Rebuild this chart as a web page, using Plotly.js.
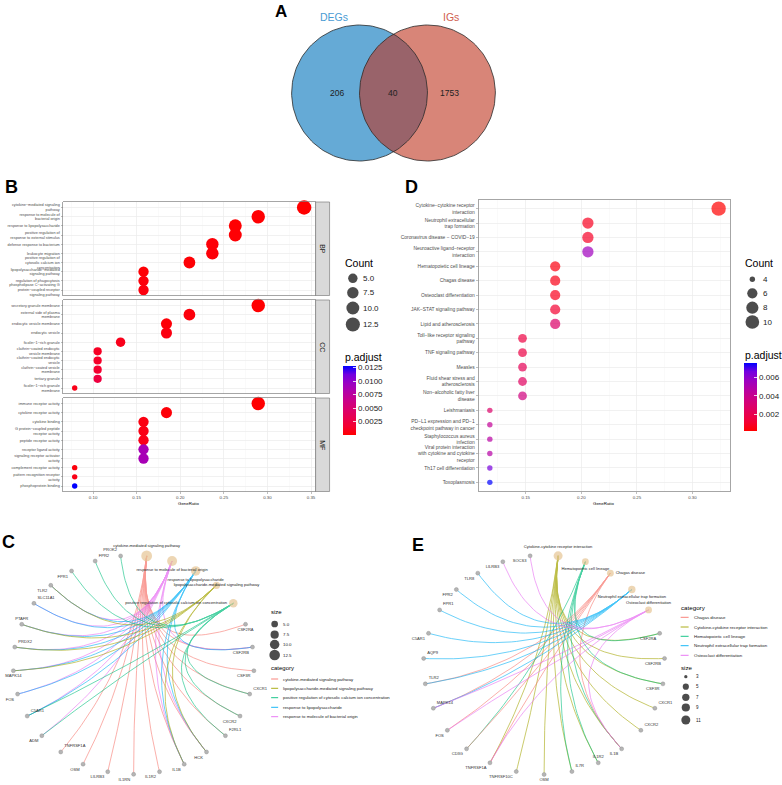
<!DOCTYPE html>
<html><head><meta charset="utf-8">
<script src="https://cdn.plot.ly/plotly-3.0.1.min.js"></script>
<style>html,body{margin:0;padding:0;background:#fff}#chart{width:782px;height:785px}</style>
</head><body><div id="chart"></div>
<script>
// ================= DATA =================
// Panel A (Venn)
const vennNames = ['DEGs', 'IGs'];
const vennRegionCounts = [206, 40, 1753]; // DEGs only, both, IGs only

// Panel B (GO dotplot)
const goGeneTotal = 38;
const bpTerms = ['cytokine−mediated signaling\npathway','response to molecule of\nbacterial origin','response to lipopolysaccharide','positive regulation of\nresponse to external stimulus','defense response to bacterium','leukocyte migration','positive regulation of\ncytosolic calcium ion\nconcentration','lipopolysaccharide−mediated\nsignaling pathway','regulation of phagocytosis','phospholipase C−activating G\nprotein−coupled receptor\nsignaling pathway'];
const bpCount = [13, 11, 10, 10, 9, 9, 8, 6, 6, 6];
const bpPadj  = [0.00003, 0.0001, 0.0001, 0.0002, 0.0003, 0.0003, 0.0002, 0.0002, 0.0004, 0.0005];
const ccTerms = ['secretory granule membrane','external side of plasma\nmembrane','endocytic vesicle membrane','endocytic vesicle','ficolin−1−rich granule','clathrin−coated endocytic\nvesicle membrane','clathrin−coated endocytic\nvesicle','clathrin−coated vesicle\nmembrane','tertiary granule','ficolin−1−rich granule\nmembrane'];
const ccCount = [11, 8, 7, 7, 5, 4, 4, 4, 4, 3];
const ccPadj  = [0.00005, 0.0004, 0.0003, 0.0006, 0.0009, 0.0012, 0.0014, 0.0016, 0.0024, 0.0008];
const mfTerms = ['immune receptor activity','cytokine receptor activity','cytokine binding','G protein−coupled peptide\nreceptor activity','peptide receptor activity','receptor ligand activity','signaling receptor activator\nactivity','complement receptor activity','pattern recognition receptor\nactivity','phosphoprotein binding'];
const mfCount = [11, 7, 6, 6, 6, 6, 6, 3, 3, 3];
const mfPadj  = [0.00005, 0.0003, 0.0006, 0.0007, 0.0008, 0.0088, 0.0088, 0.0004, 0.0007, 0.0128];
const goFacets = ['BP', 'CC', 'MF'];
const goCountLegend = [5.0, 7.5, 10.0, 12.5];
const goPadjTicks = [0.0025, 0.0050, 0.0075, 0.0100, 0.0125];

// Panel D (KEGG dotplot)
const keggGeneTotal = 34;
const keggTerms = ['Cytokine−cytokine receptor\ninteraction','Neutrophil extracellular\ntrap formation','Coronavirus disease − COVID−19','Neuroactive ligand−receptor\ninteraction','Hematopoietic cell lineage','Chagas disease','Osteoclast differentiation','JAK−STAT signaling pathway','Lipid and atherosclerosis','Toll−like receptor signaling\npathway','TNF signaling pathway','Measles','Fluid shear stress and\natherosclerosis','Non−alcoholic fatty liver\ndisease','Leishmaniasis','PD−L1 expression and PD−1\ncheckpoint pathway in cancer','Staphylococcus aureus\ninfection','Viral protein interaction\nwith cytokine and cytokine\nreceptor','Th17 cell differentiation','Toxoplasmosis'];
const keggCount = [11, 7, 7, 7, 6, 6, 6, 6, 6, 5, 5, 5, 5, 5, 4, 4, 4, 4, 4, 4];
const keggPadj  = [0.0002, 0.0008, 0.0009, 0.0055, 0.0005, 0.0006, 0.0007, 0.0011, 0.0028, 0.0016, 0.0017, 0.0022, 0.0025, 0.0035, 0.0028, 0.0042, 0.0046, 0.0047, 0.0065, 0.0075];
const keggCountLegend = [4, 6, 8, 10];
const keggPadjTicks = [0.002, 0.004, 0.006];

// Panel C (GO gene-concept network)
const netC_cats = ['cytokine-mediated signaling pathway','response to molecule of bacterial origin','response to lipopolysaccharide','lipopolysaccharide-mediated signaling pathway','positive regulation of cytosolic calcium ion concentration'];
const netC_genes = ['CSF2RA','CSF2RB','CSF3R','CXCR1','CXCR2','F2RL1','HCK','IL1B','IL1R2','IL1RN','LILRB3','OSM','TNFRSF1A','ADM','C5AR1','FOS','MAPK14','PRDX2','PTAFR','SLC11A1','TLR2','FPR1','FPR2','PROK2'];
const netC_members = [
  ['CSF2RA','CSF2RB','CSF3R','CXCR1','CXCR2','F2RL1','HCK','IL1B','IL1R2','IL1RN','LILRB3','OSM','TNFRSF1A'],
  ['CSF2RB','HCK','IL1B','ADM','C5AR1','FOS','MAPK14','PRDX2','PTAFR','SLC11A1','TLR2'],
  ['CSF2RB','HCK','IL1B','C5AR1','FOS','MAPK14','PRDX2','PTAFR','SLC11A1','TLR2'],
  ['HCK','IL1B','MAPK14','PRDX2','PTAFR','TLR2'],
  ['CXCR1','CXCR2','F2RL1','ADM','C5AR1','FPR1','FPR2','PROK2']
];
const netC_sizeLegend = [5.0, 7.5, 10.0, 12.5];

// Panel E (KEGG gene-concept network)
const netE_cats = ['Cytokine-cytokine receptor interaction','Hematopoietic cell lineage','Chagas disease','Neutrophil extracellular trap formation','Osteoclast differentiation'];
const netE_genes = ['CSF2RA','CSF2RB','CSF3R','CXCR1','CXCR2','IL1B','IL1R2','IL7R','OSM','TNFRSF10C','TNFRSF1A','CD3G','FOS','MAPK14','TLR2','AQP9','C5AR1','FPR1','FPR2','TLR8','LILRB3','SOCS3'];
const netE_members = [
  ['CSF2RA','CSF2RB','CSF3R','CXCR1','CXCR2','IL1B','IL1R2','IL7R','OSM','TNFRSF10C','TNFRSF1A'],
  ['CSF2RA','CSF3R','IL1B','IL1R2','IL7R','CD3G'],
  ['IL1B','TNFRSF1A','CD3G','FOS','MAPK14','TLR2'],
  ['MAPK14','TLR2','AQP9','C5AR1','FPR1','FPR2','TLR8'],
  ['IL1B','TNFRSF1A','FOS','MAPK14','LILRB3','SOCS3']
];
const netE_sizeLegend = [3, 5, 7, 9, 11];

// ================= STYLE / LAYOUT =================
const FONT = 'Liberation Sans, Arial, Helvetica, sans-serif';
const W = 782, H = 785;
const px2x = x => x / W;
const px2y = y => 1 - y / H;
const br = s => s.replace(/\n/g, '<br>');
const hue5 = ['#F8766D','#A3A500','#00BF7D','#00B0F6','#E76BF3'];
const padjScale = [[0,'#FF0000'],[0.125,'#F40031'],[0.25,'#E8004F'],[0.375,'#DA006D'],[0.5,'#CA0089'],[0.625,'#B400A7'],[0.75,'#9A00C3'],[0.875,'#7300E0'],[1,'#0000FF']];
const GRID = '#EBEBEB', MINOR = '#F5F5F5', BORDER = '#808080', TICKTXT = '#4D4D4D';

const traces = [];
const shapes = [];
const annotations = [];
const ann = (text, x, y, o) => annotations.push(Object.assign({text, x: px2x(x), y: px2y(y), xref:'paper', yref:'paper', showarrow:false, xanchor:'left', yanchor:'middle', font:{family:FONT, size:8, color:'#1A1A1A'}}, o || {}));

// ---------- Panel A: Venn ----------
(function(){
  const c1 = [360, 93], c2 = [428, 93], r = 68;
  const arc = (c, a0, a1, n) => { const xs=[], ys=[]; for (let k=0;k<=n;k++){ const a=(a0+(a1-a0)*k/n)*Math.PI/180; xs.push(c[0]+r*Math.cos(a)); ys.push(c[1]+r*Math.sin(a)); } return [xs, ys]; };
  const full1 = arc(c1, 0, 360, 160), full2 = arc(c2, 0, 360, 160);
  traces.push({type:'scatter', mode:'lines', x: full1[0], y: full1[1], fill:'toself', fillcolor:'#65AAD6', line:{width:0}, xaxis:'x7', yaxis:'y7', hoverinfo:'skip'});
  traces.push({type:'scatter', mode:'lines', x: full2[0], y: full2[1], fill:'toself', fillcolor:'#D88578', line:{width:0}, xaxis:'x7', yaxis:'y7', hoverinfo:'skip'});
  const d = c2[0]-c1[0];
  const half = Math.acos((d/2)/r)*180/Math.PI;
  const a2 = arc(c2, -(180-half), -(180+half), 80);
  const a1 = arc(c1, half, -half, 80);
  traces.push({type:'scatter', mode:'lines', x: a2[0].concat(a1[0]), y: a2[1].concat(a1[1]), fill:'toself', fillcolor:'#99636A', line:{width:0}, xaxis:'x7', yaxis:'y7', hoverinfo:'skip'});
  traces.push({type:'scatter', mode:'lines', x: full1[0], y: full1[1], line:{width:0.8, color:'#2B2B2B'}, xaxis:'x7', yaxis:'y7', hoverinfo:'skip'});
  traces.push({type:'scatter', mode:'lines', x: full2[0], y: full2[1], line:{width:0.8, color:'#2B2B2B'}, xaxis:'x7', yaxis:'y7', hoverinfo:'skip'});
  const midx = (c1[0]+c2[0])/2;
  const cx = [c1[0]-0.33*r, midx, c2[0]+0.33*r];
  vennRegionCounts.forEach((v,i) => ann(String(v), cx[i], c1[1], {xanchor:'center', font:{family:FONT, size:8.5, color:'#222'}}));
  ann(vennNames[0], c1[0]-0.38*r, c1[1]-r-8, {xanchor:'center', font:{family:FONT, size:10.5, color:'#4A9BD4'}});
  ann(vennNames[1], c2[0]+0.34*r, c2[1]-r-8, {xanchor:'center', font:{family:FONT, size:10.5, color:'#D0604F'}});
})();

// ---------- dotplot helpers ----------
const kDot = 1.8;
function dotSizer(counts){ const mn=Math.min(...counts), mx=Math.max(...counts); return c => kDot*(3+5*Math.sqrt(Math.max(0,(c-mn))/(mx-mn))); }
function ratioRange(counts, total){ const r = counts.map(c=>c/total); const lo=Math.min(...r), hi=Math.max(...r), p=(hi-lo)*0.05; return [lo-p, hi+p]; }

const allGoCounts = bpCount.concat(ccCount, mfCount);
const allGoPadj = bpPadj.concat(ccPadj, mfPadj);
const dGo = dotSizer(allGoCounts);
const goRange = ratioRange(allGoCounts, goGeneTotal);
const dKegg = dotSizer(keggCount);
const keggRange = ratioRange(keggCount, keggGeneTotal);

function xAxisCfg(domPx, range, labels, minorDt, dt){
  return {domain:[px2x(domPx[0]), px2x(domPx[1])], range, showline:true, mirror:true, linecolor:BORDER, linewidth:0.7,
    showgrid:true, gridcolor:GRID, gridwidth:0.7, tick0:0, dtick:dt, minor:{dtick:minorDt, showgrid:true, gridcolor:MINOR, gridwidth:0.5},
    ticks: labels ? 'outside' : '', ticklen:2, tickwidth:0.5, tickcolor:BORDER, showticklabels:labels, tickformat:'.2f',
    tickfont:{family:FONT, size:4.4, color:TICKTXT}, zeroline:false, fixedrange:true};
}
function yAxisCfg(domPx, terms, fontSize){
  const n = terms.length;
  return {domain:[px2y(domPx[1]), px2y(domPx[0])], range:[n-1+0.6, -0.6], tickmode:'array', tickvals:terms.map((_,i)=>i), ticktext:terms.map(br),
    showline:true, mirror:true, linecolor:BORDER, linewidth:0.7, showgrid:true, gridcolor:GRID, gridwidth:0.7,
    ticks:'outside', ticklen:2, tickwidth:0.5, tickcolor:BORDER, tickfont:{family:FONT, size:fontSize, color:TICKTXT}, zeroline:false, fixedrange:true};
}

// ---------- Panel B ----------
const bPanelsPx = [[202, 295.5], [300, 393.5], [398, 491.5]];
const bData = [[bpTerms,bpCount,bpPadj],[ccTerms,ccCount,ccPadj],[mfTerms,mfCount,mfPadj]];
bData.forEach((d, i) => {
  const ax = i===0 ? '' : String(i+1);
  traces.push({type:'scatter', mode:'markers', x: d[1].map(c=>c/goGeneTotal), y: d[0].map((_,j)=>j), xaxis:'x'+ax, yaxis:'y'+ax,
    marker:{size: d[1].map(dGo), color: d[2], coloraxis:'coloraxis', line:{width:0}, opacity:1}, hoverinfo:'skip', cliponaxis:false});
  const yp = bPanelsPx[i];
  shapes.push({type:'rect', xref:'paper', yref:'paper', x0:px2x(316), x1:px2x(330), y0:px2y(yp[1]), y1:px2y(yp[0]), fillcolor:'#D9D9D9', line:{color:BORDER, width:0.7}});
  ann(goFacets[i], 323, (yp[0]+yp[1])/2, {xanchor:'center', textangle:90, font:{family:FONT, size:7, color:'#1A1A1A'}});
});
ann('GeneRatio', (63.3+316)/2, 503.3, {xanchor:'center', font:{family:FONT, size:4.4, color:'#000'}});
ann('Count', 343.5, 262.7, {font:{family:FONT, size:10.5, color:'#000'}});
const bLegY = [278.3, 292.7, 308, 324.5];
traces.push({type:'scatter', mode:'markers', x: goCountLegend.map(()=>353.3), y: bLegY, xaxis:'x7', yaxis:'y7', marker:{size: goCountLegend.map(dGo), color:'#000', line:{width:0}}, hoverinfo:'skip', cliponaxis:false});
goCountLegend.forEach((v,i)=>ann(v.toFixed(1), 361.7, bLegY[i], {font:{family:FONT, size:8, color:'#1A1A1A'}}));
ann('p.adjust', 343.3, 356.7, {font:{family:FONT, size:10.5, color:'#000'}});

// ---------- Panel D ----------
traces.push({type:'scatter', mode:'markers', x: keggCount.map(c=>c/keggGeneTotal), y: keggTerms.map((_,j)=>j), xaxis:'x4', yaxis:'y4',
  marker:{size: keggCount.map(dKegg), color: keggPadj, coloraxis:'coloraxis2', line:{width:0}}, hoverinfo:'skip', cliponaxis:false});
ann('GeneRatio', (479+731)/2, 503.3, {xanchor:'center', font:{family:FONT, size:4.4, color:'#000'}});
ann('Count', 744, 263.3, {font:{family:FONT, size:10.5, color:'#000'}});
const dLegY = [279.3, 293.3, 307.7, 322];
traces.push({type:'scatter', mode:'markers', x: keggCountLegend.map(()=>753.3), y: dLegY, xaxis:'x7', yaxis:'y7', marker:{size: keggCountLegend.map(dKegg), color:'#000', line:{width:0}}, hoverinfo:'skip', cliponaxis:false});
keggCountLegend.forEach((v,i)=>ann(String(v), 761.7, dLegY[i], {font:{family:FONT, size:8, color:'#1A1A1A'}}));
ann('p.adjust', 744, 355, {font:{family:FONT, size:10.5, color:'#000'}});

// ---------- Networks ----------
const labelPosC = {CSF2RA:'bottom center', CSF2RB:'bottom left', CSF3R:'bottom left', CXCR1:'top right', CXCR2:'bottom left', F2RL1:'top right', HCK:'bottom left', IL1B:'bottom left', IL1R2:'bottom left', IL1RN:'bottom left', LILRB3:'bottom left', OSM:'bottom left', TNFRSF1A:'top right', ADM:'bottom left', C5AR1:'top right', FOS:'bottom left', MAPK14:'bottom center', PRDX2:'top right', PTAFR:'top center', SLC11A1:'top right', TLR2:'bottom left', FPR1:'bottom left', FPR2:'top right', PROK2:'top left'};
const catPosC = ['top center','bottom center','bottom center','middle center','middle left'];
const labelPosE = {CSF2RA:'bottom left', CSF2RB:'bottom left', CSF3R:'bottom left', CXCR1:'top right', CXCR2:'top right', IL1B:'bottom left', IL1R2:'top center', IL7R:'top right', OSM:'bottom center', TNFRSF10C:'bottom left', TNFRSF1A:'bottom left', CD3G:'bottom left', FOS:'bottom left', MAPK14:'top right', TLR2:'top right', AQP9:'top right', C5AR1:'bottom left', FPR1:'top right', FPR2:'bottom left', TLR8:'bottom left', LILRB3:'bottom left', SOCS3:'bottom left'};
const catPosE = ['top center','bottom center','middle right','bottom center','top center'];

const dNetC = c => 3*Math.sqrt(c);
const dNetE = c => 3.3 + 5.7*Math.sqrt(Math.max(0,c-3)/8);

function buildNetwork(cats, genes, members, xa, ya, catSize, genePos, catPos, fs){
  const N = cats.length + genes.length, step = 2*Math.PI/N;
  const P = i => { const a = Math.PI/2 - step*(i+0.5); return [Math.cos(a), Math.sin(a)]; };
  const sorted = cats.slice().sort((a,b)=>a.localeCompare(b));
  const colorOf = c => hue5[sorted.indexOf(c)];
  cats.forEach((c, ci) => {
    const xs=[], ys=[];
    members[ci].forEach(g => {
      const gi = cats.length + genes.indexOf(g);
      const p0 = P(ci), p2 = P(gi);
      for (let k=0;k<=40;k++){ const t=k/40; xs.push((1-t)*(1-t)*p0[0] + t*t*p2[0]); ys.push((1-t)*(1-t)*p0[1] + t*t*p2[1]); }
      xs.push(null); ys.push(null);
    });
    traces.push({type:'scatter', mode:'lines', x:xs, y:ys, xaxis:xa, yaxis:ya, line:{color:colorOf(c), width:0.8}, opacity:0.72, hoverinfo:'skip'});
  });
  const gp = genes.map((g,i)=>P(cats.length+i));
  traces.push({type:'scatter', mode:'markers+text', x:gp.map(p=>p[0]), y:gp.map(p=>p[1]), text:genes, textposition:genes.map(g=>genePos[g]||'bottom left'),
    textfont:{family:FONT, size:fs, color:'#333333'}, marker:{size:4, color:'#B5B5B5', line:{color:'#8C8C8C', width:0.4}}, xaxis:xa, yaxis:ya, hoverinfo:'skip', cliponaxis:false});
  const cp = cats.map((c,i)=>P(i));
  traces.push({type:'scatter', mode:'markers+text', x:cp.map(p=>p[0]), y:cp.map(p=>p[1]), text:cats, textposition:catPos,
    textfont:{family:FONT, size:fs, color:'#1A1A1A'}, marker:{size:members.map(m=>catSize(m.length)), color:'#E5C494', line:{width:0}}, xaxis:xa, yaxis:ya, hoverinfo:'skip', cliponaxis:false});
  return colorOf;
}
const colC = buildNetwork(netC_cats, netC_genes, netC_members, 'x5', 'y5', dNetC, labelPosC, catPosC, 4.1);
const colE = buildNetwork(netE_cats, netE_genes, netE_members, 'x6', 'y6', dNetE, labelPosE, catPosE, 4.1);

// Legend C
ann('size', 269.7, 612.3, {font:{family:FONT, size:6, color:'#000'}});
const cSizeY = [624, 634.7, 644.5, 655];
traces.push({type:'scatter', mode:'markers', x:netC_sizeLegend.map(()=>275), y:cSizeY, xaxis:'x7', yaxis:'y7', marker:{size:netC_sizeLegend.map(dNetC), color:'#000', line:{width:0}}, hoverinfo:'skip', cliponaxis:false});
netC_sizeLegend.forEach((v,i)=>ann(v.toFixed(1), 281.7, cSizeY[i], {font:{family:FONT, size:4.4, color:'#1A1A1A'}}));
ann('category', 269.7, 667.7, {font:{family:FONT, size:6, color:'#000'}});
const cCatY = [679, 688.3, 697.7, 707.3, 716.7];
netC_cats.slice().sort((a,b)=>a.localeCompare(b)).forEach((c,i)=>{
  shapes.push({type:'line', xref:'paper', yref:'paper', x0:px2x(271.5), x1:px2x(278.5), y0:px2y(cCatY[i]), y1:px2y(cCatY[i]), line:{color:colC(c), width:0.9}});
  ann(c, 281.7, cCatY[i], {font:{family:FONT, size:4.3, color:'#1A1A1A'}});
});
// Legend E
ann('category', 680, 607.3, {font:{family:FONT, size:6.2, color:'#000'}});
const eCatY = [617.3, 627, 636.3, 645.7, 655.3];
netE_cats.slice().sort((a,b)=>a.localeCompare(b)).forEach((c,i)=>{
  shapes.push({type:'line', xref:'paper', yref:'paper', x0:px2x(681.5), x1:px2x(689.5), y0:px2y(eCatY[i]), y1:px2y(eCatY[i]), line:{color:colE(c), width:0.9}});
  ann(c, 693.3, eCatY[i], {font:{family:FONT, size:4.4, color:'#1A1A1A'}});
});
ann('size', 680, 667.3, {font:{family:FONT, size:6.2, color:'#000'}});
const eSizeY = [676.7, 686.7, 697.3, 707.5, 720];
traces.push({type:'scatter', mode:'markers', x:netE_sizeLegend.map(()=>686.7), y:eSizeY, xaxis:'x7', yaxis:'y7', marker:{size:netE_sizeLegend.map(dNetE), color:'#000', line:{width:0}}, hoverinfo:'skip', cliponaxis:false});
netE_sizeLegend.forEach((v,i)=>ann(String(v), 695, eSizeY[i], {font:{family:FONT, size:4.5, color:'#1A1A1A'}}));

// Panel letters
[['A',281,12,17],['B',12,187,18],['D',412,187,18],['C',9,542,18],['E',419,545,18]].forEach(l=>ann('<b>'+l[0]+'</b>', l[1], l[2], {xanchor:'center', font:{family:FONT, size:l[3], color:'#000'}}));

// ---------- Layout ----------
const netAxis = (cx, rx, m) => ({domain:[px2x(cx-m*rx), px2x(cx+m*rx)], range:[-m, m], visible:false, fixedrange:true});
const netAxisY = (cy, ry, m) => ({domain:[px2y(cy+m*ry), px2y(cy-m*ry)], range:[-m, m], visible:false, fixedrange:true});
const cbBase = {thickness:13.4, thicknessmode:'pixels', lenmode:'pixels', xanchor:'left', yanchor:'top', xpad:0, ypad:0, outlinewidth:0,
  ticks:'inside', ticklen:2.5, tickcolor:'#FFFFFF', tickwidth:0.8, tickfont:{family:FONT, size:8, color:'#1A1A1A'}, title:{text:''}, tickmode:'array'};

const layout = {
  width: W, height: H, margin:{l:0, r:0, t:0, b:0}, paper_bgcolor:'#FFFFFF', plot_bgcolor:'rgba(0,0,0,0)',
  font:{family:FONT, color:'#000'}, showlegend:false, hovermode:false,
  xaxis:  Object.assign(xAxisCfg([63.3,316], goRange, false, 0.025, 0.05), {anchor:'y'}),
  yaxis:  Object.assign(yAxisCfg(bPanelsPx[0], bpTerms, 3.8), {anchor:'x'}),
  xaxis2: Object.assign(xAxisCfg([63.3,316], goRange, false, 0.025, 0.05), {anchor:'y2'}),
  yaxis2: Object.assign(yAxisCfg(bPanelsPx[1], ccTerms, 3.8), {anchor:'x2'}),
  xaxis3: Object.assign(xAxisCfg([63.3,316], goRange, true, 0.025, 0.05), {anchor:'y3'}),
  yaxis3: Object.assign(yAxisCfg(bPanelsPx[2], mfTerms, 3.8), {anchor:'x3'}),
  xaxis4: Object.assign(xAxisCfg([479,731], keggRange, true, 0.025, 0.05), {anchor:'y4'}),
  yaxis4: Object.assign(yAxisCfg([200,491], keggTerms, 4.9), {anchor:'x4'}),
  xaxis5: Object.assign(netAxis(133.8, 120.6, 1.06), {anchor:'y5'}),
  yaxis5: Object.assign(netAxisY(664.8, 109.5, 1.06), {anchor:'x5'}),
  xaxis6: Object.assign(netAxis(544.8, 120.8, 1.06), {anchor:'y6'}),
  yaxis6: Object.assign(netAxisY(664.8, 109.7, 1.06), {anchor:'x6'}),
  xaxis7: {domain:[0,1], range:[0, W], visible:false, fixedrange:true, anchor:'y7'},
  yaxis7: {domain:[0,1], range:[H, 0], visible:false, fixedrange:true, anchor:'x7'},
  coloraxis: {cmin: Math.min(...allGoPadj), cmax: Math.max(...allGoPadj), colorscale: padjScale,
    colorbar: Object.assign({}, cbBase, {x:px2x(343.3), y:px2y(366), len:69, tickvals:goPadjTicks, ticktext:goPadjTicks.map(v=>v.toFixed(4))})},
  coloraxis2: {cmin: Math.min(...keggPadj), cmax: Math.max(...keggPadj), colorscale: padjScale,
    colorbar: Object.assign({}, cbBase, {x:px2x(744), y:px2y(363.3), len:68.4, tickvals:keggPadjTicks, ticktext:keggPadjTicks.map(v=>v.toFixed(3))})},
  shapes, annotations
};

Plotly.newPlot('chart', traces, layout, {staticPlot:true, displayModeBar:false});
</script>
</body></html>
